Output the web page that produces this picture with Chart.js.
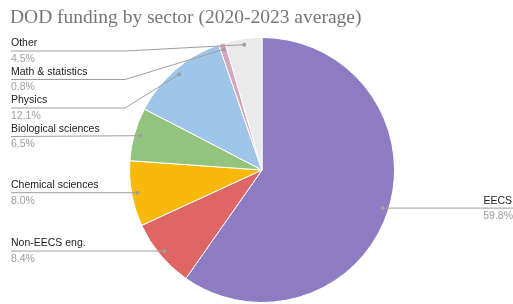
<!DOCTYPE html>
<html>
<head>
<meta charset="utf-8">
<script src="https://cdn.jsdelivr.net/npm/chart.js@4/dist/chart.umd.min.js"></script>
<style>
  html, body { margin: 0; padding: 0; background: #fff; }
  #wrap { width: 513px; height: 304px; position: relative; }
</style>
</head>
<body>
<div id="wrap"><canvas id="pie"></canvas></div>
<script>
const title = "DOD funding by sector (2020-2023 average)"
const sectors = ["EECS", "Non-EECS eng.", "Chemical sciences", "Biological sciences", "Physics", "Math & statistics", "Other"]
const shares = [59.8, 8.4, 8.0, 6.5, 12.1, 0.8, 4.5]
const colors = ["#8e7cc3", "#e06666", "#f9b90a", "#93c47d", "#9fc5e8", "#d5a6bd", "#eaeaea"]

// draws title + google-style leader labels from the arc elements
const leaderLabels = {
    id: "leaderLabels",
    afterDraw(chart) {
        const ctx = chart.ctx
        const arcs = chart.getDatasetMeta(0).data

        ctx.save()
        ctx.font = "19.5px 'Liberation Serif', 'Times New Roman', serif"
        ctx.fillStyle = "#757575"
        ctx.textBaseline = "middle"
        ctx.textAlign = "left"
        ctx.fillText(title, 10, 18)

        let left = []
        let right = []
        arcs.forEach((arc, i) => {
            const mid = (arc.startAngle + arc.endAngle) / 2
            const r = arc.outerRadius * 0.955
            const p = { i: i, x: arc.x + Math.cos(mid) * r, y: arc.y + Math.sin(mid) * r }
            if (p.x < arc.x) left.push(p)
            else right.push(p)
        })
        left.sort((a, b) => a.y - b.y)

        let prev = -1000
        left.forEach(p => {
            p.ly = Math.max(p.y, 51, prev + 28.5)
            prev = p.ly
        })
        right.forEach(p => { p.ly = p.y })

        const bendX = 125
        ctx.strokeStyle = "#9e9e9e"
        ctx.lineWidth = 1
        ctx.font = "10.5px 'Liberation Sans', Arial, sans-serif"

        left.forEach(p => {
            ctx.beginPath()
            ctx.moveTo(11, p.ly)
            if (Math.abs(p.ly - p.y) > 1) ctx.lineTo(bendX, p.ly)
            ctx.lineTo(p.x, p.y)
            ctx.stroke()
            ctx.fillStyle = "#9e9e9e"
            ctx.beginPath()
            ctx.arc(p.x, p.y, 2, 0, Math.PI * 2)
            ctx.fill()
            ctx.textAlign = "left"
            ctx.fillStyle = "#222"
            ctx.fillText(sectors[p.i], 11, p.ly - 7.5)
            ctx.fillStyle = "#9e9e9e"
            ctx.fillText(shares[p.i].toFixed(1) + "%", 11, p.ly + 8)
        })

        right.forEach(p => {
            ctx.beginPath()
            ctx.moveTo(p.x, p.ly)
            ctx.lineTo(513, p.ly)
            ctx.stroke()
            ctx.fillStyle = "#9e9e9e"
            ctx.beginPath()
            ctx.arc(p.x, p.y, 2, 0, Math.PI * 2)
            ctx.fill()
            ctx.textAlign = "right"
            ctx.fillStyle = "#222"
            ctx.fillText(sectors[p.i], 512, p.ly - 7.5)
            ctx.fillStyle = "#9e9e9e"
            ctx.fillText(shares[p.i].toFixed(1) + "%", 513, p.ly + 8)
        })
        ctx.restore()
    }
}

new Chart(document.getElementById("pie"), {
    type: "pie",
    data: {
        labels: sectors,
        datasets: [{
            data: shares,
            backgroundColor: colors,
            borderColor: "#ffffff",
            borderWidth: 1
        }]
    },
    options: {
        responsive: true,
        maintainAspectRatio: false,
        animation: false,
        layout: { padding: { top: 37, bottom: 1, left: 100, right: 89 } },
        plugins: {
            legend: { display: false },
            tooltip: { enabled: false }
        }
    },
    plugins: [leaderLabels]
})
</script>
</body>
</html>
